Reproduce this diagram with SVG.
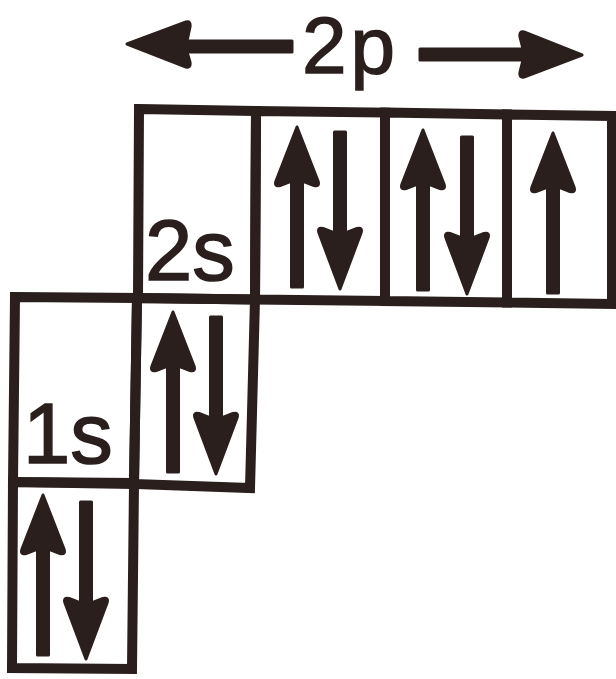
<svg xmlns="http://www.w3.org/2000/svg" width="616" height="679" viewBox="0 0 616 679">
  <style>
    .cell { fill: none; stroke: #2a1f1c; stroke-width: 10; stroke-linejoin: miter; }
    .ink { fill: #2a1f1c; stroke: #2a1f1c; stroke-width: 3; stroke-linejoin: round; }
    .lbl { font-family: "Liberation Sans", Arial, sans-serif; fill: #2a1f1c; stroke: #2a1f1c; stroke-width: 1.5; }
  </style>
  <defs>
    <!-- electron spin arrows: up has its tip at 0,0; down has its tail at 0,0 -->
    <path id="up" class="ink" d="M0,0 L21,54 Q23,60 17,58.5 L5.5,54 L5.5,160 L-5.5,160 L-5.5,54 L-17,58.5 Q-23,60 -21,54 Z"/>
    <path id="down" class="ink" d="M-5.5,0 L5.5,0 L5.5,101 L17,96.5 Q23,95 21,101 L0,157 L-21,101 Q-23,95 -17,96.5 L-5.5,101 Z"/>
  </defs>
  <rect width="616" height="679" fill="#ffffff"/>

  <!-- 2p heading with span arrows -->
  <g id="label-2p">
    <path class="ink" d="M127,44 L186,22 Q191,21 190,27 L187,41 L292,41 L292,52 L187,52 L190,62 Q191,68 186,67 Z"/>
    <text class="lbl" x="302" y="73" font-size="80" letter-spacing="4">2p</text>
    <path class="ink" d="M582,55 L524,32 Q519,31 520,37 L523,49 L420,49 L420,60 L523,60 L520,72 Q519,78 524,77 Z"/>
  </g>

  <!-- 2s label cell -->
  <g id="cell-2s-label">
    <path class="cell" d="M139,109 L256,111 L255,299.5 L138,298 Z"/>
    <text class="lbl" x="145" y="280" font-size="85">2s</text>
  </g>

  <!-- 2p orbitals -->
  <g id="orbital-2p-1">
    <path class="cell" d="M256,111 L385,112.6 L385,301 L255,299.5 Z"/>
    <use href="#up" x="297" y="127"/>
    <use href="#down" x="340" y="132"/>
  </g>
  <g id="orbital-2p-2">
    <path class="cell" d="M385,112.6 L507,114.4 L507,302.5 L385,301 Z"/>
    <use href="#up" x="423" y="130"/>
    <use href="#down" x="467" y="137"/>
  </g>
  <g id="orbital-2p-3">
    <path class="cell" d="M507,114.4 L612,116 L612,304 L507,302.5 Z"/>
    <use href="#up" x="553" y="133"/>
  </g>

  <!-- 1s label cell -->
  <g id="cell-1s-label">
    <path class="cell" d="M15,297 L137,298 L134,483 L13,482 Z"/>
    <text class="lbl" x="23" y="463" font-size="85">1s</text>
  </g>

  <!-- 2s orbital -->
  <g id="orbital-2s">
    <path class="cell" d="M137,298 L255,299.5 L250,488 L134,484 Z"/>
    <use href="#up" x="173" y="312"/>
    <use href="#down" x="216" y="317"/>
  </g>

  <!-- 1s orbital -->
  <g id="orbital-1s">
    <path class="cell" d="M13,482 L134,484 L132,669 L12,668 Z"/>
    <use href="#up" x="43" y="495"/>
    <use href="#down" x="86" y="502"/>
  </g>

  <g id="connectors"/>
</svg>
